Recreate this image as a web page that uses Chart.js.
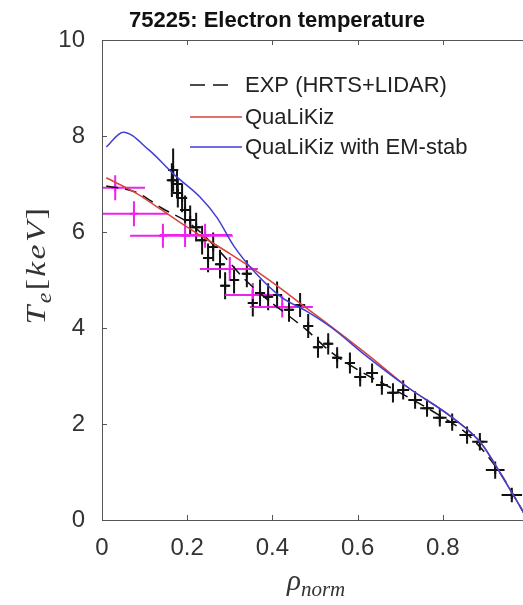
<!DOCTYPE html>
<html>
<head>
<meta charset="utf-8">
<script src="https://cdn.jsdelivr.net/npm/chart.js@4.4.1/dist/chart.umd.min.js"></script>
<style>
html, body { margin: 0; padding: 0; background: #fff; overflow: hidden; }
canvas { display: block; }
</style>
</head>
<body>
<canvas id="c" width="540" height="605"></canvas>
<script>
// QuaLiKiz with EM-stab (blue)
const emX = [0.01, 0.05, 0.11, 0.17, 0.23, 0.27, 0.31, 0.36, 0.42, 0.48, 0.54, 0.62, 0.72, 0.82, 0.89, 0.94, 0.99, 1.0];
const emY = [7.77, 8.08, 7.71, 7.19, 6.73, 6.3, 5.7, 5.15, 4.65, 4.35, 4.0, 3.42, 2.75, 2.15, 1.60, 0.90, 0.15, 0.0];

// QuaLiKiz (red)
const qlkX = [0.01, 0.08, 0.14, 0.2, 0.24, 0.30, 0.36, 0.42, 0.47, 0.535, 0.63, 0.72, 0.82, 0.89, 0.94, 0.99, 1.0];
const qlkY = [7.13, 6.81, 6.46, 6.1, 5.88, 5.55, 5.2, 4.82, 4.48, 4.05, 3.40, 2.75, 2.15, 1.60, 0.90, 0.15, 0.0];

// experimental fit (dashed)
const expX = [0.01, 0.08, 0.14, 0.21, 0.28, 0.33, 0.39, 0.43, 0.48, 0.54, 0.61, 0.70, 0.79, 0.86, 0.93, 0.99, 1.0];
const expY = [6.96, 6.83, 6.5, 6.15, 5.56, 5.06, 4.58, 4.31, 3.96, 3.48, 3.08, 2.65, 2.19, 1.77, 1.04, 0.15, 0.0];

// HRTS points
const hrtsX = [0.167, 0.164, 0.176, 0.178, 0.188, 0.195, 0.207, 0.221, 0.235, 0.261, 0.249, 0.277, 0.310, 0.289, 0.340, 0.371, 0.390, 0.411, 0.354, 0.439,
  0.465, 0.484, 0.507, 0.531, 0.552, 0.582, 0.606, 0.634, 0.657, 0.683, 0.707, 0.735, 0.763, 0.793, 0.822, 0.857, 0.887, 0.923, 0.962];
const hrtsY = [7.29, 7.08, 7.00, 6.81, 6.71, 6.46, 6.25, 6.10, 5.83, 5.69, 5.46, 5.33, 5.00, 4.88, 5.13, 4.73, 4.65, 4.69, 4.52, 4.38,
  4.48, 4.04, 3.60, 3.67, 3.38, 3.27, 2.98, 3.06, 2.81, 2.65, 2.71, 2.50, 2.33, 2.13, 2.04, 1.77, 1.63, 1.04, 0.52];
const hrtsYErr = [0.45, 0.35, 0.3, 0.3, 0.3, 0.3, 0.3, 0.3, 0.3, 0.3, 0.3, 0.3, 0.28, 0.28, 0.28, 0.28, 0.28, 0.28, 0.28, 0.25,
  0.25, 0.25, 0.22, 0.22, 0.22, 0.22, 0.2, 0.2, 0.2, 0.2, 0.2, 0.18, 0.18, 0.18, 0.18, 0.18, 0.18, 0.18, 0.15];
const hrtsXErr = [0.012, 0.012, 0.012, 0.012, 0.012, 0.012, 0.012, 0.012, 0.012, 0.012, 0.012, 0.012, 0.012, 0.012, 0.012, 0.012, 0.012, 0.012, 0.012, 0.012,
  0.012, 0.012, 0.012, 0.012, 0.012, 0.012, 0.014, 0.014, 0.014, 0.014, 0.014, 0.016, 0.016, 0.016, 0.016, 0.018, 0.018, 0.022, 0.024];

// LIDAR points
const lidX = [0.031, 0.075, 0.143, 0.195, 0.242, 0.300, 0.354, 0.423];
const lidY = [6.92, 6.38, 5.92, 5.94, 5.92, 5.23, 4.69, 4.44];
const lidXLo = [0.002, 0.0, 0.066, 0.136, 0.188, 0.23, 0.289, 0.347];
const lidXHi = [0.101, 0.155, 0.207, 0.305, 0.307, 0.366, 0.418, 0.495];
const lidYErr = [0.26, 0.26, 0.25, 0.25, 0.25, 0.25, 0.25, 0.22];

const xTicks = [0, 0.2, 0.4, 0.6, 0.8, 1];
const yTicks = [0, 2, 4, 6, 8, 10];

const titleText = "75225: Electron temperature";
const legendLabels = ["EXP (HRTS+LIDAR)", "QuaLiKiz", "QuaLiKiz with EM-stab"];

const RED = "#d8453a", BLUE = "#3f3fd6", MAG = "#ee22ee";

const pts = (xs, ys) => xs.map((v, i) => ({ x: v, y: ys[i] }));

const frame = {
    id: "frame",
    beforeDatasetsDraw(chart) {
        const { ctx, scales: { x, y } } = chart;
        ctx.save();
        ctx.lineWidth = 2;
        ctx.strokeStyle = "#111";
        hrtsX.forEach((v, i) => {
            const px = x.getPixelForValue(v), py = y.getPixelForValue(hrtsY[i]);
            ctx.beginPath();
            ctx.moveTo(px, y.getPixelForValue(hrtsY[i] - hrtsYErr[i]));
            ctx.lineTo(px, y.getPixelForValue(hrtsY[i] + hrtsYErr[i]));
            ctx.moveTo(x.getPixelForValue(v - hrtsXErr[i]), py);
            ctx.lineTo(x.getPixelForValue(v + hrtsXErr[i]), py);
            ctx.stroke();
        });
        ctx.strokeStyle = MAG;
        lidX.forEach((v, i) => {
            const px = x.getPixelForValue(v), py = y.getPixelForValue(lidY[i]);
            ctx.beginPath();
            ctx.moveTo(px, y.getPixelForValue(lidY[i] - lidYErr[i]));
            ctx.lineTo(px, y.getPixelForValue(lidY[i] + lidYErr[i]));
            ctx.moveTo(x.getPixelForValue(lidXLo[i]), py);
            ctx.lineTo(x.getPixelForValue(lidXHi[i]), py);
            ctx.stroke();
        });
        ctx.restore();
    },
    afterDraw(chart) {
        const { ctx, chartArea: a, scales: { x, y } } = chart;
        ctx.save();
        // box + inward ticks
        ctx.strokeStyle = "#555";
        ctx.lineWidth = 1;
        ctx.strokeRect(a.left + 0.5, a.top + 0.5, a.right - a.left, a.bottom - a.top);
        ctx.beginPath();
        xTicks.forEach(t => {
            const px = Math.round(x.getPixelForValue(t)) + 0.5;
            ctx.moveTo(px, a.bottom); ctx.lineTo(px, a.bottom - 5);
            ctx.moveTo(px, a.top); ctx.lineTo(px, a.top + 5);
        });
        yTicks.forEach(t => {
            const py = Math.round(y.getPixelForValue(t)) + 0.5;
            ctx.moveTo(a.left, py); ctx.lineTo(a.left + 5, py);
            ctx.moveTo(a.right, py); ctx.lineTo(a.right - 5, py);
        });
        ctx.stroke();

        // title
        ctx.fillStyle = "#111";
        ctx.font = "bold 22px 'Liberation Sans', Arial, sans-serif";
        ctx.textAlign = "center";
        ctx.textBaseline = "alphabetic";
        ctx.fillText(titleText, 277, 27);

        // legend
        ctx.textAlign = "left";
        ctx.textBaseline = "middle";
        ctx.font = "22px 'Liberation Sans', Arial, sans-serif";
        const rows = [85, 117, 147];
        const cols = ["#111", RED, BLUE];
        rows.forEach((ry, i) => {
            ctx.beginPath();
            ctx.strokeStyle = cols[i];
            ctx.lineWidth = 1.5;
            ctx.setLineDash(i === 0 ? [15, 8] : []);
            ctx.moveTo(190, ry); ctx.lineTo(i === 0 ? 229 : 242, ry);
            ctx.stroke();
            ctx.setLineDash([]);
            ctx.fillStyle = "#222";
            ctx.fillText(legendLabels[i], 245, ry + 1);
        });

        // y title  T_e[keV]
        ctx.fillStyle = "#333";
        ctx.translate(37, 265);
        ctx.rotate(-Math.PI / 2);
        ctx.scale(1.2, 1);
        const big = "italic 28px 'Liberation Serif', 'DejaVu Serif', serif";
        const up = "28px 'Liberation Serif', 'DejaVu Serif', serif";
        const sub = "italic 20px 'Liberation Serif', 'DejaVu Serif', serif";
        const parts = [["T", big, 0], ["e", sub, 6], ["[", up, 0], ["k", big, 0], ["e", big, 0], ["V", big, 0], ["]", up, 0]];
        const gap = 2;
        let w = 0;
        parts.forEach(p => { ctx.font = p[1]; w += ctx.measureText(p[0]).width + gap; });
        let cx = -w / 2;
        ctx.textAlign = "left";
        ctx.textBaseline = "alphabetic";
        parts.forEach(p => { ctx.font = p[1]; ctx.fillText(p[0], cx, 8 + p[2]); cx += ctx.measureText(p[0]).width + gap; });
        ctx.setTransform(1, 0, 0, 1, 0, 0);

        // x title  rho_norm
        ctx.font = "italic 29px 'Liberation Serif', 'DejaVu Serif', serif";
        ctx.fillText("\u03C1", 287, 590);
        const rw = ctx.measureText("\u03C1").width;
        ctx.font = "italic 21px 'Liberation Serif', 'DejaVu Serif', serif";
        ctx.fillText("norm", 287 + rw, 596);
        ctx.restore();
    }
};

const tickFont = { family: "'Liberation Sans', Arial, sans-serif", size: 24 };

new Chart(document.getElementById("c"), {
    type: "scatter",
    data: {
        datasets: [
            { data: pts(emX, emY), showLine: true, borderColor: BLUE, borderWidth: 1.5, pointRadius: 0, cubicInterpolationMode: "monotone" },
            { data: pts(qlkX, qlkY), showLine: true, borderColor: RED, borderWidth: 1.5, pointRadius: 0, cubicInterpolationMode: "monotone" },
            { data: pts(expX, expY), showLine: true, borderColor: "#111", borderWidth: 1.5, borderDash: [12, 7], pointRadius: 0, cubicInterpolationMode: "monotone" },
            { data: pts(hrtsX, hrtsY), pointStyle: "cross", pointRadius: 4, borderColor: "#111", borderWidth: 2 },
            { data: pts(lidX, lidY), pointStyle: "cross", pointRadius: 4, borderColor: MAG, borderWidth: 2 }
        ]
    },
    options: {
        responsive: false,
        animation: false,
        layout: { padding: { left: 0, right: 12, top: 40, bottom: 0 } },
        plugins: { legend: { display: false }, tooltip: { enabled: false } },
        scales: {
            x: {
                type: "linear", min: 0, max: 1,
                afterBuildTicks: s => { s.ticks = xTicks.map(v => ({ value: v })); },
                afterFit: s => { s.height = 85; s.paddingLeft = 0; s.paddingRight = 0; },
                grid: { display: false, drawTicks: false },
                border: { display: false },
                ticks: { padding: 14, color: "#333", maxRotation: 0, font: tickFont, callback: v => String(v) }
            },
            y: {
                min: 0, max: 10,
                afterBuildTicks: s => { s.ticks = yTicks.map(v => ({ value: v })); },
                afterFit: s => { s.width = 102; s.paddingTop = 0; s.paddingBottom = 0; },
                grid: { display: false, drawTicks: false },
                border: { display: false },
                ticks: { padding: 17, color: "#333", font: tickFont, callback: v => String(v) }
            }
        }
    },
    plugins: [frame]
});
</script>
</body>
</html>
